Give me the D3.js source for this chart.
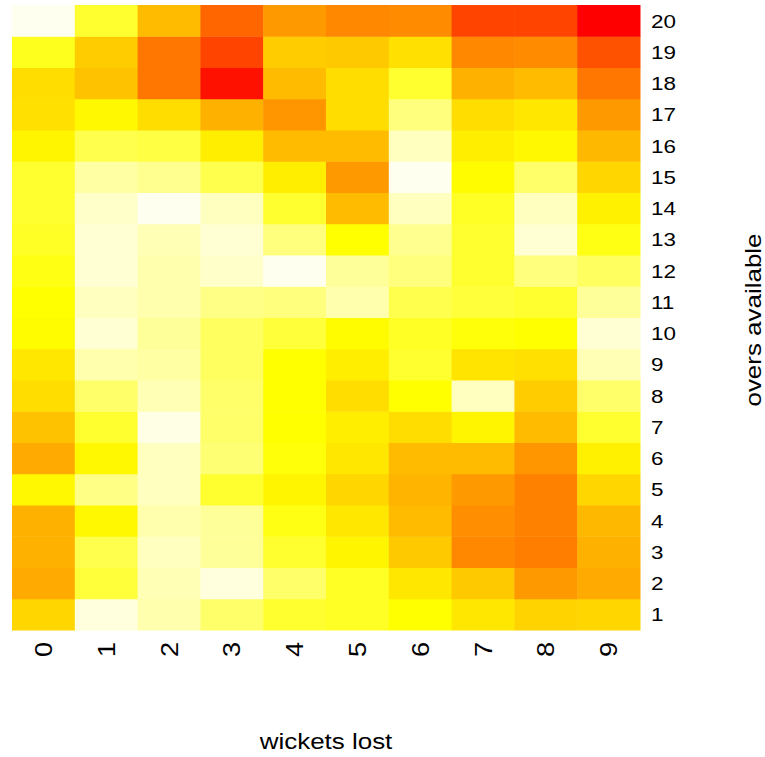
<!DOCTYPE html>
<html>
<head>
  <meta charset="utf-8">
  <title>wickets lost vs overs available</title>
  <style>
    body{
      margin: 0;
      background: white;
    }
    text{
      font-family: "Liberation Sans", Arial, sans-serif;
      fill: #000;
    }
  </style>
  <script src="https://d3js.org/d3.v7.min.js"></script>
</head>
<body>
  <div id="container"></div>

  <script>
    //*******DATA*******
    // columns: wickets lost, rows: overs available
    const wickets = ["0","1","2","3","4","5","6","7","8","9"];
    const overs = ["1","2","3","4","5","6","7","8","9","10",
                   "11","12","13","14","15","16","17","18","19","20"];

    // one array per overs row, values 0-100 (low = red, high = pale)
    const over1  = [63, 98, 93, 86, 80, 79, 75, 68, 62, 63];
    const over2  = [50, 81, 94, 98, 86, 79, 68, 59, 45, 50];
    const over3  = [52, 83, 95, 91, 80, 72, 59, 40, 37, 52];
    const over4  = [52, 73, 93, 91, 77, 68, 55, 42, 38, 54];
    const over5  = [73, 89, 95, 80, 72, 63, 53, 45, 38, 63];
    const over6  = [50, 73, 95, 87, 76, 68, 55, 55, 44, 71];
    const over7  = [57, 80, 99, 86, 75, 70, 65, 72, 55, 80];
    const over8  = [65, 86, 94, 86, 75, 65, 75, 95, 60, 86];
    const over9  = [68, 93, 92, 85, 75, 70, 80, 67, 66, 94];
    const over10 = [74, 97, 91, 85, 81, 74, 79, 76, 75, 97];
    const over11 = [75, 95, 93, 89, 88, 93, 83, 81, 80, 91];
    const over12 = [77, 97, 93, 96, 100, 91, 88, 80, 88, 85];
    const over13 = [79, 97, 94, 97, 88, 75, 90, 80, 97, 77];
    const over14 = [80, 96, 100, 95, 80, 55, 95, 79, 95, 71];
    const over15 = [80, 92, 90, 83, 70, 45, 100, 74, 86, 63];
    const over16 = [72, 83, 82, 70, 55, 55, 95, 70, 73, 54];
    const over17 = [66, 73, 65, 52, 44, 65, 88, 65, 68, 45];
    const over18 = [65, 57, 35, 5, 55, 65, 80, 52, 55, 35];
    const over19 = [78, 60, 35, 20, 60, 59, 66, 40, 41, 24];
    const over20 = [100, 80, 55, 30, 45, 40, 41, 20, 20, 0];

    const rows = [over1, over2, over3, over4, over5, over6, over7, over8, over9, over10,
                  over11, over12, over13, over14, over15, over16, over17, over18, over19, over20];

    //*******CONSTANTS*******
    const width = 765,
          height = 757,
          margin = {
            top: 5,
            bottom: 127,
            left: 12,
            right: 125
          };
    const stretch = 1.18; // the original font runs wider than Liberation Sans

    // flatten rows into cells
    var cells = [];
    rows.forEach(function(r, i){
      r.forEach(function(v, j){
        cells.push({over: overs[i], wicket: wickets[j], value: v});
      });
    });

    //*******SCALES*******
    var x = d3.scaleBand()
      .domain(wickets)
      .range([margin.left, width - margin.right]);

    var y = d3.scaleBand()
      .domain(overs)
      .range([height - margin.bottom, margin.top]);

    // R style heat.colors: red -> orange -> yellow -> pale
    var color = d3.scaleLinear()
      .domain([0, 25, 50, 75, 100])
      .range(["#ff0000", "#ff5500", "#ffaa00", "#ffff00", "#fffff0"])
      .clamp(true);

    //*******SVG*******
    var svg = d3.select("#container")
      .append("svg")
      .attr("width", width)
      .attr("height", height)
      .style("display", "block");

    svg.selectAll("rect.cell")
      .data(cells)
      .enter()
      .append("rect")
      .attr("class", "cell")
      .attr("x", function(d){ return x(d.wicket); })
      .attr("y", function(d){ return y(d.over); })
      .attr("width", x.bandwidth() + 0.5)
      .attr("height", y.bandwidth() + 0.5)
      .attr("fill", function(d){ return color(d.value); });

    // bottom labels, turned on their side like las=2
    svg.selectAll("text.xlab")
      .data(wickets)
      .enter()
      .append("text")
      .attr("class", "xlab")
      .attr("transform", function(d){
        return "translate(" + (x(d) + x.bandwidth()/2 + 8.5) + "," + (height - margin.bottom + 12) + ") rotate(-90) scale(" + stretch + ",1)";
      })
      .attr("text-anchor", "end")
      .attr("font-size", "23px")
      .text(function(d){ return d; });

    // right labels
    svg.selectAll("text.ylab")
      .data(overs)
      .enter()
      .append("text")
      .attr("class", "ylab")
      .attr("transform", function(d){
        return "translate(" + (width - margin.right + 11) + "," + (y(d) + y.bandwidth()/2 + 7) + ") scale(" + stretch + ",1)";
      })
      .attr("text-anchor", "start")
      .attr("font-size", "19px")
      .text(function(d){ return d; });

    svg.append("text")//x title
      .attr("transform", "translate(" + ((margin.left + width - margin.right)/2) + ",749) scale(" + stretch + ",1)")
      .attr("text-anchor", "middle")
      .attr("font-size", "22px")
      .text("wickets lost");

    svg.append("text")//y title
      .attr("transform", "translate(761,320) rotate(-90) scale(" + stretch + ",1)")
      .attr("text-anchor", "middle")
      .attr("font-size", "22px")
      .text("overs available");
  </script>
</body>
</html>
